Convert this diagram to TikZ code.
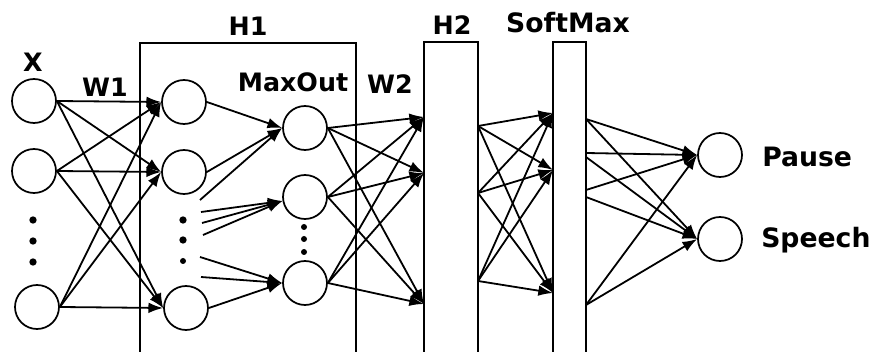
\documentclass[tikz,border=0pt]{standalone}
\usepackage{fontspec}
\setmainfont{DejaVu Sans}
\usetikzlibrary{arrows.meta}
\begin{document}
\begin{tikzpicture}[x=0.75pt,y=-0.75pt,
  neuron/.style={circle,draw,line width=1.3pt,minimum size=33pt,inner sep=0pt},
  layerbox/.style={draw,line width=1.7pt},
  conn/.style={line width=1.35pt,-{Latex[length=11pt,width=8pt]}},
  lbl/.style={font=\fontsize{19}{22}\selectfont\bfseries,inner sep=0pt,anchor=base},
  biglbl/.style={lbl,font=\fontsize{20}{23}\selectfont\bfseries},
  dotmark/.style={circle,fill,inner sep=0pt,minimum size=5.5pt}]
\useasboundingbox (0,0) rectangle (874,352);
\fill[white] (0,0) rectangle (874,352);
\clip (0,0) rectangle (874,352);

% layer boxes
\draw[layerbox] (140,360) -- (140,43) -- (356,43) -- (356,360);
\draw[layerbox] (424,360) -- (424,42) -- (478,42) -- (478,360);
\draw[layerbox] (553,360) -- (553,42) -- (586,42) -- (586,360);

% labels
\node[lbl] (lx) at (33,72) {X};
\node[lbl] (lw1) at (105,97) {W1};
\node[lbl] (lh1) at (248,36) {H1};
\node[lbl] (lmax) at (293,92) {MaxOut};
\node[lbl] (lw2) at (390,94) {W2};
\node[lbl] (lh2) at (452,35) {H2};
\node[biglbl] (lsm) at (568,33) {SoftMax};
\node[biglbl,anchor=base west] (lp) at (762,167) {Pause};
\node[biglbl,anchor=base west] (ls) at (761,248) {Speech};

% input neurons
\node[neuron] (x1) at (34,101) {};
\node[neuron] (x2) at (34,171) {};
\node[neuron] (x4) at (37,307) {};
\node[dotmark] (xd1) at (33,220) {};
\node[dotmark] (xd2) at (33,241) {};
\node[dotmark] (xd3) at (33,262) {};

% H1 neurons
\node[neuron] (a1) at (184,102) {};
\node[neuron] (a2) at (184,172) {};
\node[neuron] (a4) at (186,308) {};
\node[dotmark] (ad1) at (183,220) {};
\node[dotmark] (ad2) at (183,240) {};
\node[dotmark,minimum size=4.5pt] (ad3) at (183,261) {};

% maxout neurons
\node[neuron] (m1) at (305,128) {};
\node[neuron] (m2) at (305,197) {};
\node[neuron] (m3) at (305,283) {};
\node[dotmark,minimum size=4.5pt] (md1) at (304,227) {};
\node[dotmark,minimum size=4.5pt] (md2) at (304,239) {};
\node[dotmark,minimum size=4.5pt] (md3) at (304,252) {};

% output neurons
\node[neuron] (o1) at (720,155) {};
\node[neuron] (o2) at (720,239) {};

% free ends in the dotted part of H1
\coordinate (d1) at (200,200);
\coordinate (d2) at (201,212);
\coordinate (d3) at (202,223);
\coordinate (d4) at (203,235);
\coordinate (d5) at (200,257);
\coordinate (d6) at (201,277);

% ports of the boxes
\coordinate (hi1) at (424,117);
\coordinate (hi2) at (424,173);
\coordinate (hi3) at (424,304);
\coordinate (ho1) at (478,126);
\coordinate (ho2) at (478,193);
\coordinate (ho3) at (478,281);
\coordinate (si1) at (553,113);
\coordinate (si2) at (553,170);
\coordinate (si3) at (553,293);
\coordinate (so1) at (586,119);
\coordinate (so2) at (586,153);
\coordinate (so3) at (586,157);
\coordinate (so4) at (586,190);
\coordinate (so5) at (586,197);
\coordinate (so6) at (586,305);

% X -> H1
\foreach \s in {x1,x2,x4}
  \foreach \t in {a1,a2,a4}
    \draw[conn] (\s.east) -- (\t.west);

% H1 -> MaxOut
\draw[conn] (a1.east) -- (m1.west);
\draw[conn] (a2.east) -- (m1.west);
\draw[conn] (d1) -- (m1.west);
\draw[conn] (d2) -- (m2.190);
\draw[conn] (d3) -- (m2.190);
\draw[conn] (d4) -- (m2.190);
\draw[conn] (d5) -- (m3.west);
\draw[conn] (d6) -- (m3.west);
\draw[conn] (a4.east) -- (m3.west);

% MaxOut -> H2
\foreach \s in {m1,m2,m3}
  \foreach \t in {hi1,hi2,hi3}
    \draw[conn] (\s.east) -- (\t);

% H2 -> SoftMax
\foreach \s in {ho1,ho2,ho3}
  \foreach \t in {si1,si2,si3}
    \draw[conn] (\s) -- (\t);

% SoftMax -> outputs
\draw[conn] (so1) -- (o1.west);
\draw[conn] (so1) -- (o2.west);
\draw[conn] (so2) -- (o1.west);
\draw[conn] (so3) -- (o2.west);
\draw[conn] (so4) -- (o1.west);
\draw[conn] (so5) -- (o2.west);
\draw[conn] (so6) -- (o1.west);
\draw[conn] (so6) -- (o2.west);
\end{tikzpicture}
\end{document}
